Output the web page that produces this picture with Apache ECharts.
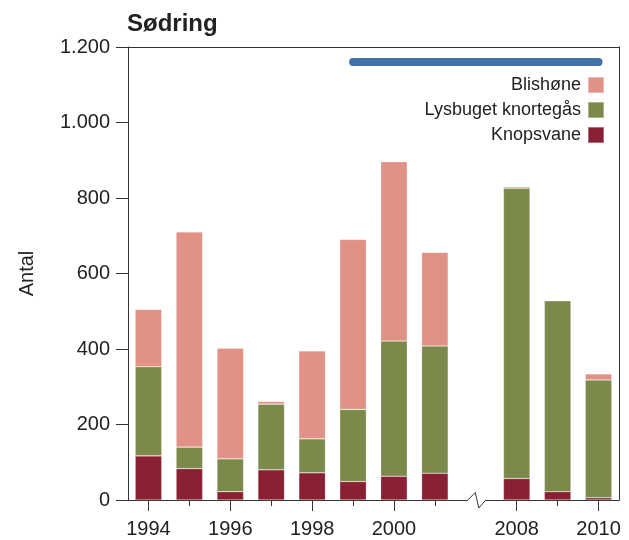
<!DOCTYPE html>
<html>
<head>
<meta charset="utf-8">
<script src="https://cdn.jsdelivr.net/npm/echarts@6/dist/echarts.min.js"></script>
<style>html,body{margin:0;padding:0;background:#fff}#c{width:629px;height:540px}</style>
</head>
<body>
<div id="c"></div>
<script>
// Categories (one empty slot marks the axis break between 2001 and 2008)
var categories = ['1994','1995','1996','1997','1998','1999','2000','2001','','2008','2009','2010'];
var labeledYears = ['1994','1996','1998','2000','2008','2010'];
var knopsvane = [117, 83, 22, 80, 72, 49, 63, 71, null, 57, 22, 6];
var lysbuget  = [236, 57, 87, 174, 90, 191, 358, 337, null, 769, 506, 312];
var blishone  = [152, 570, 293, 7, 233, 450, 475, 248, null, 4, 0, 16];
var yTicks = [0, 200, 400, 600, 800, 1000, 1200];
// Period bar (blue) from 1999 to 2010 at level 1160
var periodStart = '1999', periodEnd = '2010', periodLevel = 1160;

var FONT = "'Liberation Sans', Arial, Helvetica, sans-serif";
var AX = '#333';
var gapIndex = categories.indexOf('');

function fmt(v){ return String(v).replace(/\B(?=(\d{3})+(?!\d))/g, '.'); }

var chart = echarts.init(document.getElementById('c'), null, {renderer: 'canvas'});
var option = {
  animation: false,
  textStyle: {fontFamily: FONT},
  title: {text: 'Sødring', left: 122, top: 7,
    textStyle: {fontFamily: FONT, fontSize: 24, fontWeight: 'bold', color: '#222'}},
  legend: {
    data: ['Blishøne', 'Lysbuget knortegås', 'Knopsvane'],
    orient: 'vertical', align: 'right', right: 24, top: 76, padding: 0,
    itemWidth: 16, itemHeight: 16, itemGap: 7, icon: 'rect',
    textStyle: {fontFamily: FONT, fontSize: 18, color: '#222', padding: [0, 2, 0, 0]}
  },
  grid: {left: 128, right: 10, top: 47, bottom: 40, containLabel: false},
  xAxis: [
    {type: 'category', data: categories, position: 'bottom', boundaryGap: true,
     axisLine: {show: true, lineStyle: {color: AX, width: 1}},
     axisTick: {show: true, alignWithLabel: true, length: 6, lineStyle: {color: AX},
       interval: function(i){ return i !== gapIndex; }},
     axisLabel: {show: false}, splitLine: {show: false}},
    {type: 'category', data: categories, position: 'bottom', boundaryGap: true,
     axisLine: {show: false},
     axisTick: {show: true, alignWithLabel: true, length: 11, lineStyle: {color: AX},
       interval: function(i, v){ return labeledYears.indexOf(v) >= 0; }},
     axisLabel: {show: true, margin: 19, fontSize: 20, color: '#222', fontFamily: FONT,
       interval: function(i, v){ return labeledYears.indexOf(v) >= 0; }},
     splitLine: {show: false}},
    {type: 'category', data: categories, position: 'top', boundaryGap: true,
     axisLine: {show: true, lineStyle: {color: AX, width: 1}},
     axisTick: {show: false}, axisLabel: {show: false}, splitLine: {show: false}}
  ],
  yAxis: [
    {type: 'value', min: 0, max: 1200, interval: 200, position: 'left',
     name: 'Antal', nameLocation: 'middle', nameGap: 91, nameRotate: 90,
     nameTextStyle: {fontFamily: FONT, fontSize: 20, color: '#222'},
     axisLine: {show: true, lineStyle: {color: AX, width: 1}},
     axisTick: {show: true, length: 12, lineStyle: {color: AX}},
     axisLabel: {margin: 18, fontSize: 20, color: '#222', fontFamily: FONT,
       formatter: function(v){ return fmt(v); }},
     splitLine: {show: false}},
    {type: 'value', min: 0, max: 1200, interval: 200, position: 'right',
     axisLine: {show: true, lineStyle: {color: AX, width: 1}},
     axisTick: {show: false}, axisLabel: {show: false}, splitLine: {show: false}}
  ],
  series: [
    {name: 'Knopsvane', type: 'bar', stack: 's', data: knopsvane, barWidth: '65%',
     itemStyle: {color: '#8a2034', borderColor: 'rgba(255,255,255,0.35)', borderWidth: 0.6}},
    {name: 'Lysbuget knortegås', type: 'bar', stack: 's', data: lysbuget,
     itemStyle: {color: '#7b8a4a', borderColor: 'rgba(255,255,255,0.35)', borderWidth: 0.6}},
    {name: 'Blishøne', type: 'bar', stack: 's', data: blishone,
     itemStyle: {color: '#e09286', borderColor: 'rgba(255,255,255,0.35)', borderWidth: 0.6}},
    {type: 'custom', silent: true, z: 10,
     data: [[categories.indexOf(periodStart), categories.indexOf(periodEnd), periodLevel]],
     encode: {x: [0, 1], y: 2},
     renderItem: function(params, api){
       var a = api.coord([api.value(0), api.value(2)]);
       var b = api.coord([api.value(1), api.value(2)]);
       return {type: 'line', shape: {x1: a[0], y1: a[1], x2: b[0], y2: b[1]},
         style: {stroke: '#4472a8', lineWidth: 8, lineCap: 'round'}};
     }}
  ]
};
chart.setOption(option);

// Axis break symbol at the empty slot
var bx = chart.convertToPixel({xAxisIndex: 0}, gapIndex);
var by = chart.convertToPixel({yAxisIndex: 0}, 0);
chart.setOption({
  graphic: [
    {type: 'rect', z: 100, shape: {x: bx - 8, y: by - 3, width: 18, height: 6},
     style: {fill: '#fff'}},
    {type: 'polyline', z: 101,
     shape: {points: [[bx - 8, by], [bx - 0.5, by - 7.5], [bx + 3, by + 8], [bx + 10, by]]},
     style: {stroke: AX, lineWidth: 1, fill: null}}
  ]
});
</script>
</body>
</html>
